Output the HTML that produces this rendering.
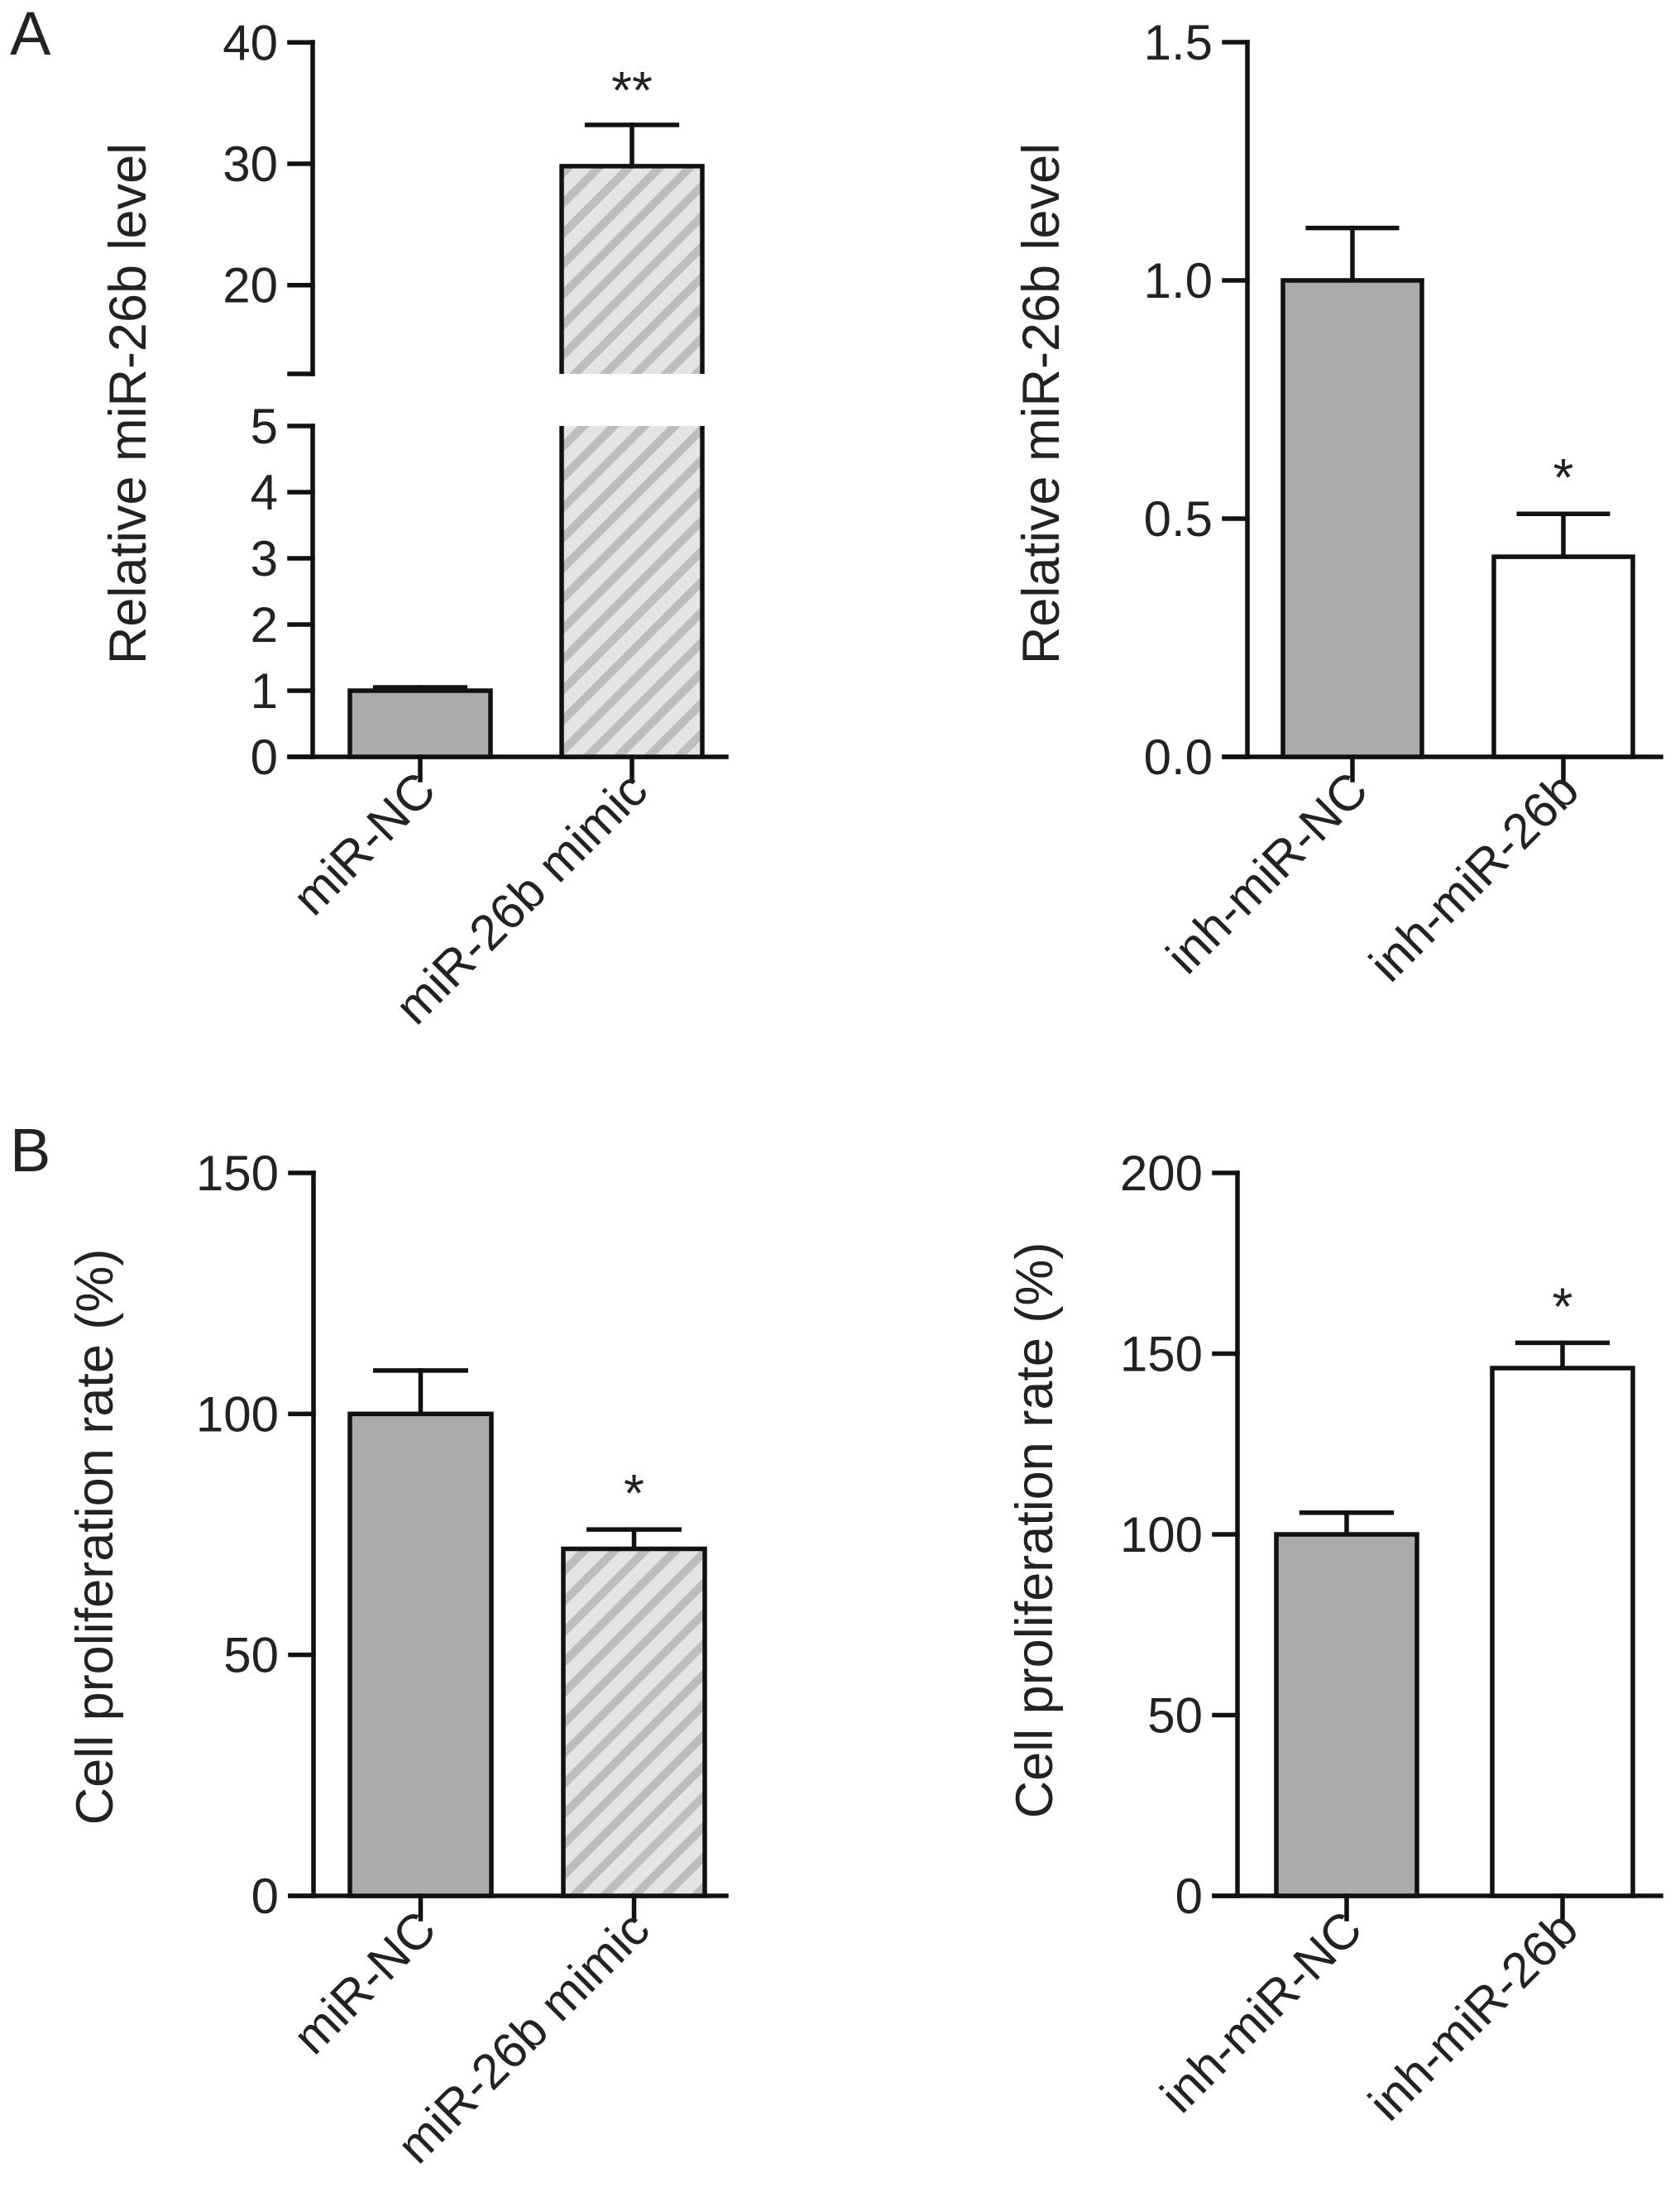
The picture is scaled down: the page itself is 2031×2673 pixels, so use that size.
<!DOCTYPE html>
<html><head><meta charset="utf-8"><style>
html,body{margin:0;padding:0;background:#fff;}
svg text{font-family:"Liberation Sans",sans-serif;fill:#222;}
</style></head><body>
<svg id="fig" width="2031" height="2668" viewBox="0 0 2031 2668" xmlns="http://www.w3.org/2000/svg">
<defs>
<pattern id="hatch" patternUnits="userSpaceOnUse" width="26" height="26" patternTransform="rotate(45)">
<rect width="26" height="26" fill="#e4e4e4"/>
<rect x="0" y="0" width="10" height="26" fill="#bdbdbd"/>
</pattern>
</defs>
<text x="12" y="66" font-size="74">A</text>
<text x="12" y="1416" font-size="74">B</text>
<g id="charts"></g>
</svg>
<script>
const NS="http://www.w3.org/2000/svg";
const root=document.getElementById('charts');
// Panel A left (broken axis)
const aLeftCats=["miR-NC","miR-26b mimic"];
const aLeftVals=[1.0,29.8];
const aLeftErr=[1.05,33.2];
const aLeftUpperTicks=[20,30,40];
const aLeftLowerTicks=[0,1,2,3,4,5];
// Panel A right
const aRightCats=["inh-miR-NC","inh-miR-26b"];
const aRightVals=[1.0,0.42];
const aRightErr=[1.11,0.51];
const aRightTicks=["0.0","0.5","1.0","1.5"];
// Panel B left
const bLeftCats=["miR-NC","miR-26b mimic"];
const bLeftVals=[100,72];
const bLeftErr=[109,76];
const bLeftTicks=[0,50,100,150];
// Panel B right
const bRightCats=["inh-miR-NC","inh-miR-26b"];
const bRightVals=[100,146];
const bRightErr=[106,153];
const bRightTicks=[0,50,100,150,200];

const TF=60, XF=60, TT=63, SF=64;
function el(tag,attrs,parent){const e=document.createElementNS(NS,tag);for(const k in attrs)e.setAttribute(k,attrs[k]);(parent||root).appendChild(e);return e;}
function line(x1,y1,x2,y2,name,p){const e=el('line',{x1,y1,x2,y2,stroke:'#111','stroke-width':5.5,'stroke-linecap':'square'},p);

return e;}
function txt(x,y,s,size,anchor,name,tr,p){const e=el('text',{x,y,'font-size':size,'text-anchor':anchor},p);if(tr)e.setAttribute('transform',tr);e.textContent=s;

return e;}
function xlabel(cx,base,c,g){const ax=cx+22,ay=base+44;txt(ax,ay,c,XF,'end','x-tick-label','rotate(-45 '+ax+' '+ay+')',g);}

function chart(o){
  const g=el('g',{});
  
  
  const y=o.y;
  line(o.ax,o.yTop,o.ax,o.base,'y-axis',g);
  line(o.ax-28,o.base,o.xEnd,o.base,'x-axis',g);
  o.ticks.forEach(t=>{const v=parseFloat(t);const yy=y(v);line(o.ax-28,yy,o.ax,yy,'y-tick',g);txt(o.ax-42,yy+21,String(t),TF,'end','y-tick-label',null,g);});
  o.cats.forEach((c,i)=>{
    const x0=o.barX[i],w=o.barW,cx=x0+w/2;
    const top=y(o.vals[i]),et=y(o.err[i]);
    line(cx,et,cx,top,'error-bar',g);line(cx-w*0.32,et,cx+w*0.32,et,'error-cap',g);
    const r=el('rect',{x:x0,y:top,width:w,height:o.base-top,fill:o.fills[i],stroke:'#111','stroke-width':5.5},g);
    
    
    line(cx,o.base,cx,o.base+28,'x-tick',g);
    xlabel(cx,o.base,c,g);
    if(o.sig[i])txt(cx,et-22,o.sig[i],SF,'middle','significance-marker',null,g);
  });
  txt(0,0,o.title,TT,'middle','y-axis-title','translate('+o.titleX+' '+o.titleY+') rotate(-90)',g);
}

// Panel A left: broken axis
(function(){
  const g=el('g',{});
  
  
  const ax=378,base=915,brkTop=452,lowTop=515;
  const yL=v=>base-v*80;
  const yU=v=>198-(v-30)*14.67;
  line(ax,51,ax,brkTop,'y-axis-upper',g);
  line(ax,lowTop,ax,base,'y-axis-lower',g);
  line(ax-28,brkTop,ax,brkTop,'axis-break-tick',g);
  line(ax-28,base,878,base,'x-axis',g);
  aLeftUpperTicks.forEach(v=>{const yy=yU(v);line(ax-28,yy,ax,yy,'y-tick',g);txt(ax-42,yy+21,String(v),TF,'end','y-tick-label',null,g);});
  aLeftLowerTicks.forEach(v=>{const yy=yL(v);line(ax-28,yy,ax,yy,'y-tick',g);txt(ax-42,yy+21,String(v),TF,'end','y-tick-label',null,g);});
  const barX=[423,679],w=170,fills=['#aaaaaa','url(#hatch)'],sig=['','**'];
  aLeftCats.forEach((c,i)=>{
    const x0=barX[i],cx=x0+w/2,v=aLeftVals[i],e=aLeftErr[i];
    const yv=v>5?yU(v):yL(v), ye=e>5?yU(e):yL(e);
    line(cx,ye,cx,yv,'error-bar',g);line(cx-w*0.32,ye,cx+w*0.32,ye,'error-cap',g);
    if(v>5){
      const r1=el('rect',{x:x0,y:yv,width:w,height:brkTop-yv,fill:fills[i]},g);
      
      
      el('polyline',{points:`${x0},${brkTop} ${x0},${yv} ${x0+w},${yv} ${x0+w},${brkTop}`,fill:'none',stroke:'#111','stroke-width':5.5},g);
      const r2=el('rect',{x:x0,y:lowTop,width:w,height:base-lowTop,fill:fills[i]},g);
      
      
      el('polyline',{points:`${x0},${lowTop} ${x0},${base} ${x0+w},${base} ${x0+w},${lowTop}`,fill:'none',stroke:'#111','stroke-width':5.5},g);
    } else {
      const r=el('rect',{x:x0,y:yv,width:w,height:base-yv,fill:fills[i],stroke:'#111','stroke-width':5.5},g);
      
      
    }
    line(cx,base,cx,base+28,'x-tick',g);
    xlabel(cx,base,c,g);
    if(sig[i])txt(cx,ye-20,sig[i],SF,'middle','significance-marker',null,g);
  });
  txt(0,0,'Relative miR-26b level',TT,'middle','y-axis-title','translate(176 488) rotate(-90)',g);
})();

const yA=v=>915-v*(864/1.5);
chart({name:'chart-a-right',cats:aRightCats,vals:aRightVals,err:aRightErr,ticks:aRightTicks,y:yA,ax:1508,yTop:51,base:915,xEnd:2008,barX:[1551,1806],barW:168,fills:['#aaaaaa','#ffffff'],sig:['','*'],title:'Relative miR-26b level',titleX:1280,titleY:488});
const yBL=v=>2292-v*(874/150);
chart({name:'chart-b-left',cats:bLeftCats,vals:bLeftVals,err:bLeftErr,ticks:bLeftTicks,y:yBL,ax:379,yTop:1418,base:2292,xEnd:878,barX:[423,681],barW:171,fills:['#aaaaaa','url(#hatch)'],sig:['','*'],title:'Cell proliferation rate (%)',titleX:136,titleY:1858});
const yBR=v=>2292-v*(874/200);
chart({name:'chart-b-right',cats:bRightCats,vals:bRightVals,err:bRightErr,ticks:bRightTicks,y:yBR,ax:1496,yTop:1418,base:2292,xEnd:2008,barX:[1543,1804],barW:170,fills:['#aaaaaa','#ffffff'],sig:['','*'],title:'Cell proliferation rate (%)',titleX:1272,titleY:1850});
</script>
</body></html>
